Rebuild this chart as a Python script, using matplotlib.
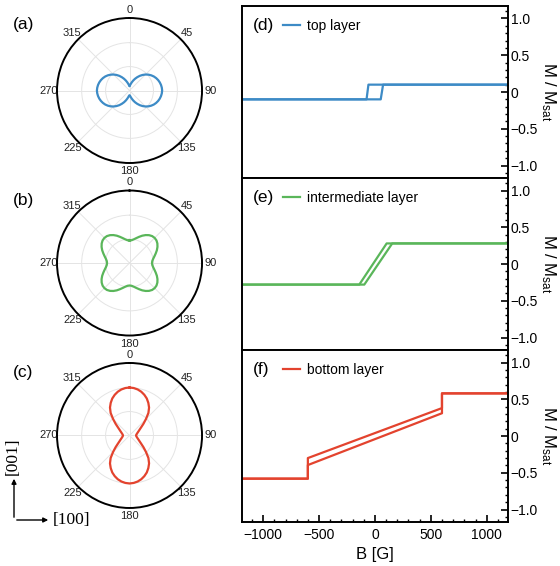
import numpy as np
import matplotlib
matplotlib.use("Agg")
import matplotlib.pyplot as plt
from matplotlib.ticker import MultipleLocator, FixedLocator, FixedFormatter

plt.rcParams['font.family'] = ['Liberation Sans', 'DejaVu Sans']
plt.rcParams['mathtext.fontset'] = 'custom'
plt.rcParams['mathtext.rm'] = 'Liberation Sans'
plt.rcParams['mathtext.it'] = 'Liberation Sans:italic'

BLUE = '#3d8bc6'
GREEN = '#5ab65a'
RED = '#e3432e'

# angular distributions, one quadrant (deg from [001]), mirrored to full circle
angle_q = [0, 5, 10, 15, 20, 25, 30, 35, 40, 45, 50, 55, 60, 65, 70, 75, 80, 85, 90]
r_top = [0.065, 0.072, 0.09, 0.115, 0.145, 0.178, 0.212, 0.247, 0.28, 0.312,
         0.34, 0.365, 0.387, 0.405, 0.42, 0.432, 0.441, 0.447, 0.45]
r_mid = [0.31, 0.315, 0.331, 0.355, 0.384, 0.416, 0.445, 0.469, 0.485, 0.49,
         0.485, 0.469, 0.445, 0.416, 0.384, 0.355, 0.331, 0.315, 0.31]
r_bot = [0.662, 0.657, 0.645, 0.625, 0.597, 0.563, 0.519, 0.47, 0.405, 0.32,
         0.25, 0.195, 0.16, 0.137, 0.12, 0.108, 0.099, 0.093, 0.09]

# hysteresis branches (B in G, M / Msat)
top_up_B = [-1190, 52, 73, 1190]
top_up_M = [-0.1, -0.1, 0.1, 0.1]
top_dn_B = [1190, -58, -75, -1190]
top_dn_M = [0.1, 0.1, -0.1, -0.1]

mid_up_B = [-1190, -95, 155, 1190]
mid_up_M = [-0.28, -0.28, 0.28, 0.28]
mid_dn_B = [1190, 105, -140, -1190]
mid_dn_M = [0.28, 0.28, -0.28, -0.28]

bot_up_B = [-1190, -600, -600, 600, 600, 1190]
bot_up_M = [-0.58, -0.58, -0.395, 0.31, 0.58, 0.58]
bot_dn_B = [1190, 600, 600, -600, -600, -1190]
bot_dn_M = [0.58, 0.58, 0.38, -0.30, -0.58, -0.58]

theta_ticks = [0, 45, 90, 135, 180, 225, 270, 315]
ytick_vals = [-1.0, -0.5, 0, 0.5, 1.0]
ytick_labels = ['\u22121.0', '\u22120.5', '0', '0.5', '1.0']


def full_circle(angles, radii):
    a = np.array(angles, dtype=float)
    r = np.array(radii, dtype=float)
    th = np.concatenate([a, 180 - a[::-1], 180 + a, 360 - a[::-1]])
    rr = np.concatenate([r, r[::-1], r, r[::-1]])
    return np.deg2rad(th), rr


fig = plt.figure(figsize=(5.6, 5.66), dpi=100)

polar_rows = [(0.712, r_top, BLUE, '(a)', 25),
              (0.4072, r_mid, GREEN, '(b)', 200),
              (0.1025, r_bot, RED, '(c)', 373)]
for bottom, radii, col, lab, ly in polar_rows:
    ax = fig.add_axes([0.1018, bottom, 0.259, 0.2562], projection='polar')
    ax.set_theta_zero_location('N')
    ax.set_theta_direction(-1)
    th, rr = full_circle(angle_q, radii)
    ax.plot(th, rr, color=col, lw=1.6)
    ax.set_ylim(0, 1)
    ax.set_yticks([0.33, 0.66])
    ax.set_yticklabels([])
    ax.set_xticks(np.deg2rad(theta_ticks))
    ax.set_xticklabels([str(t) for t in theta_ticks], fontsize=8, color='#222222')
    ax.tick_params(axis='x', pad=-4, direction='out', length=3, width=1, color='black')
    ax.grid(color='#e4e4e4', lw=0.7)
    ax.spines['polar'].set_linewidth(1.4)
    fig.text(13 / 560, 1 - ly / 566, lab, fontsize=12.5, va='center', ha='left')

# crystal axes arrows
fig.patches.append(matplotlib.patches.FancyArrowPatch(
    (14 / 560, 1 - 520 / 566), (14 / 560, 1 - 476 / 566), transform=fig.transFigure,
    arrowstyle='-|>', mutation_scale=7, lw=1, color='black'))
fig.patches.append(matplotlib.patches.FancyArrowPatch(
    (14 / 560, 1 - 520 / 566), (51 / 560, 1 - 520 / 566), transform=fig.transFigure,
    arrowstyle='-|>', mutation_scale=7, lw=1, color='black'))
fig.text(13 / 560, 1 - 456 / 566, '[001]', rotation=90, family='Liberation Serif',
         fontsize=12.5, ha='center', va='center')
fig.text(53 / 560, 1 - 520 / 566, '[100]', family='Liberation Serif',
         fontsize=12.5, ha='left', va='center')

# hysteresis panels
panels = [(0.6855, top_up_B, top_up_M, top_dn_B, top_dn_M, BLUE, '(d)', 'top layer'),
          (0.3816, mid_up_B, mid_up_M, mid_dn_B, mid_dn_M, GREEN, '(e)', 'intermediate layer'),
          (0.0777, bot_up_B, bot_up_M, bot_dn_B, bot_dn_M, RED, '(f)', 'bottom layer')]
for i, (bottom, ub, um, db, dm, col, lab, name) in enumerate(panels):
    ax = fig.add_axes([0.432, bottom, 0.475, 0.3039])
    ax.plot(ub, um, color=col, lw=1.6, label=name)
    ax.plot(db, dm, color=col, lw=1.6)
    ax.set_xlim(-1190, 1190)
    ax.set_ylim(-1.17, 1.17)
    for s in ax.spines.values():
        s.set_linewidth(1.4)
    ax.yaxis.tick_right()
    ax.yaxis.set_label_position('right')
    ax.yaxis.set_major_locator(FixedLocator(ytick_vals))
    ax.yaxis.set_major_formatter(FixedFormatter(ytick_labels))
    ax.yaxis.set_minor_locator(MultipleLocator(0.1))
    ax.tick_params(axis='y', which='both', direction='in', right=True, left=False,
                   labelsize=10, pad=2)
    ax.tick_params(axis='y', which='major', length=5, width=1.2)
    ax.tick_params(axis='y', which='minor', length=2.5, width=1)
    ax.set_ylabel(r'M / M$_{\mathrm{sat}}$', rotation=270, fontsize=12, labelpad=14)
    ax.xaxis.set_major_locator(MultipleLocator(500))
    ax.xaxis.set_minor_locator(MultipleLocator(100))
    if i < 2:
        ax.tick_params(axis='x', which='both', bottom=False, labelbottom=False)
    else:
        ax.tick_params(axis='x', which='both', direction='in', labelsize=10, pad=4)
        ax.tick_params(axis='x', which='major', length=5, width=1.2)
        ax.tick_params(axis='x', which='minor', length=2.5, width=1)
        ax.set_xlabel('B [G]', fontsize=12, labelpad=4)
    ax.text(0.042, 0.884, lab, transform=ax.transAxes, fontsize=12.5, va='center')
    ax.legend(loc='center left', bbox_to_anchor=(0.155, 0.884), frameon=False,
              handlelength=1.2, handletextpad=0.5, borderpad=0, borderaxespad=0,
              fontsize=10)

fig.savefig('out.png', dpi=100)
